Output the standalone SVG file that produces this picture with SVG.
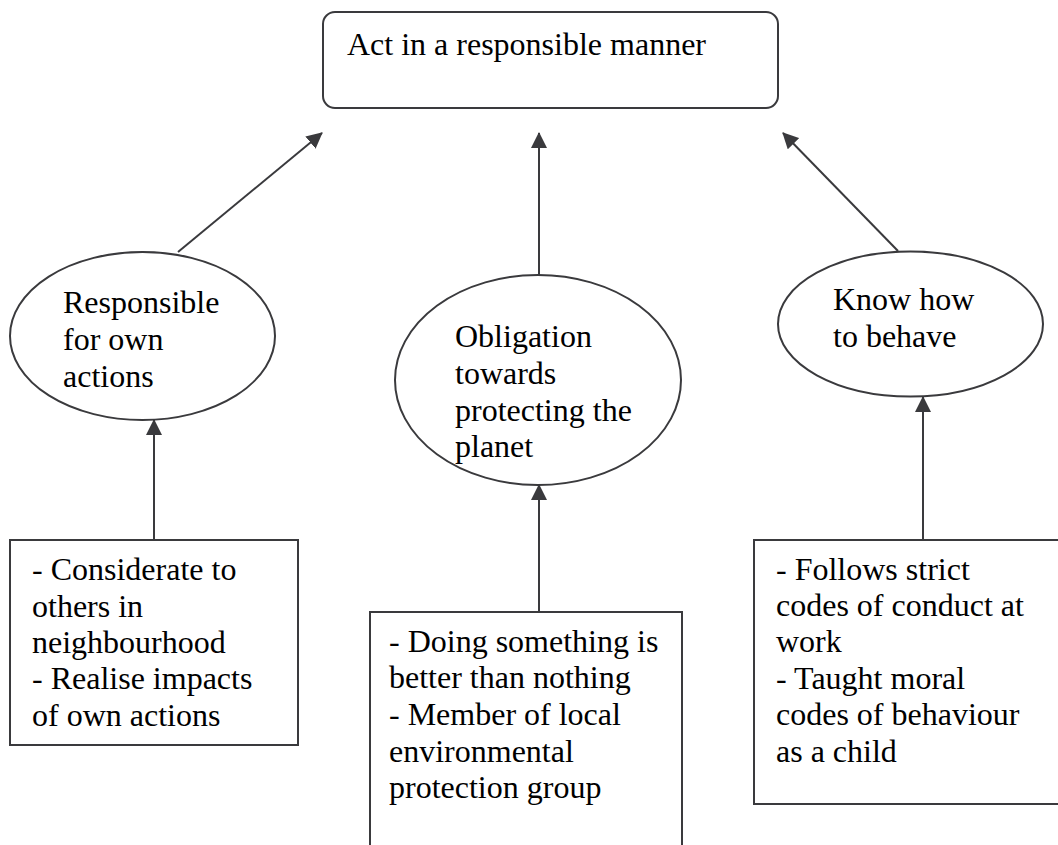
<svg xmlns="http://www.w3.org/2000/svg" width="1058" height="845" viewBox="0 0 1058 845">
<style>
.shape{fill:#fff;stroke:#3a3a3d;stroke-width:2}
.conn{stroke:#3a3a3d;stroke-width:2;fill:none}
text{font-family:"Liberation Serif","Times New Roman",serif;font-size:32px;fill:#000}
</style>
<defs>
<marker id="ah" markerUnits="userSpaceOnUse" markerWidth="16" markerHeight="16" refX="15" refY="8" orient="auto">
<path d="M0,0 L16,8 L0,16 z" fill="#3a3a3d"/>
</marker>
</defs>
<rect width="1058" height="845" fill="#fff"/>
<g id="top">
<rect class="shape" x="323" y="12" width="455" height="96" rx="12"/>
<text x="347" y="55">Act in a responsible manner</text>
</g>
<g id="e-left">
<ellipse class="shape" cx="142.5" cy="336" rx="132.5" ry="84"/>
<text x="63" y="313">Responsible</text>
<text x="63" y="350">for own</text>
<text x="63" y="387">actions</text>
</g>
<g id="e-mid">
<ellipse class="shape" cx="538" cy="380" rx="143" ry="105"/>
<text x="455" y="347">Obligation</text>
<text x="455" y="384">towards</text>
<text x="455" y="421">protecting the</text>
<text x="455" y="457">planet</text>
</g>
<g id="e-right">
<ellipse class="shape" cx="910.5" cy="324" rx="132.5" ry="72.5"/>
<text x="833" y="310">Know how</text>
<text x="833" y="347">to behave</text>
</g>
<g id="b-left">
<rect class="shape" x="10" y="540" width="288" height="205"/>
<text x="32" y="580">- Considerate to</text>
<text x="32" y="617">others in</text>
<text x="32" y="653">neighbourhood</text>
<text x="32" y="689">- Realise impacts</text>
<text x="32" y="726">of own actions</text>
</g>
<g id="b-mid">
<rect class="shape" x="370" y="612" width="312" height="260"/>
<text x="389" y="652">- Doing something is</text>
<text x="389" y="688">better than nothing</text>
<text x="389" y="725">- Member of local</text>
<text x="389" y="762">environmental</text>
<text x="389" y="798">protection group</text>
</g>
<g id="b-right">
<rect class="shape" x="754" y="540" width="320" height="264"/>
<text x="776" y="580">- Follows strict</text>
<text x="776" y="616">codes of conduct at</text>
<text x="776" y="652">work</text>
<text x="776" y="689">- Taught moral</text>
<text x="776" y="725">codes of behaviour</text>
<text x="776" y="762">as a child</text>
</g>
<g id="connectors">
<line class="conn" x1="178" y1="252" x2="322" y2="133" marker-end="url(#ah)"/>
<line class="conn" x1="539" y1="276" x2="539" y2="133" marker-end="url(#ah)"/>
<line class="conn" x1="898" y1="251" x2="783" y2="133" marker-end="url(#ah)"/>
<line class="conn" x1="154" y1="540" x2="154" y2="420" marker-end="url(#ah)"/>
<line class="conn" x1="539" y1="612" x2="539" y2="485" marker-end="url(#ah)"/>
<line class="conn" x1="923" y1="540" x2="923" y2="397" marker-end="url(#ah)"/>
</g>
</svg>
